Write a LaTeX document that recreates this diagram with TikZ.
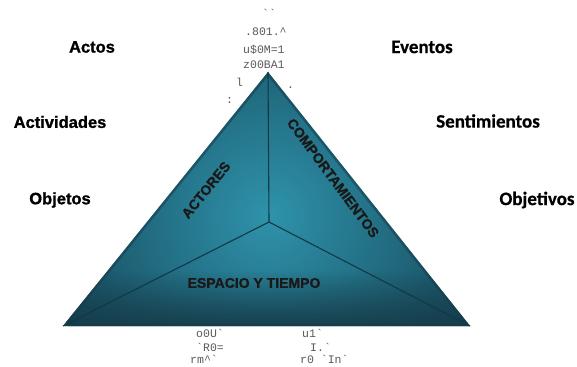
\documentclass[tikz,border=0pt]{standalone}
\usepackage{fontspec}
\setmainfont{Liberation Sans}
\newfontfamily\heavyfont[FakeBold=1.2]{Liberation Sans Bold}
\newfontfamily\calfont[FakeBold=0.6]{Carlito Bold}
\newfontfamily\monofont{Liberation Mono}
\usetikzlibrary{fadings}
\definecolor{tealC}{HTML}{2E93AB}
\definecolor{tealE}{HTML}{17495B}
\definecolor{tealB}{HTML}{163C4A}
\definecolor{lineC}{HTML}{123848}
\definecolor{junk}{HTML}{5A5A5A}
\tikzset{
  leftlab/.style={font=\heavyfont\fontsize{16.5}{18}\selectfont, text=black, inner sep=0pt},
  rightlab/.style={font=\calfont\fontsize{19}{20}\selectfont, text=black, inner sep=0pt},
  facelab/.style={font=\heavyfont\fontsize{14}{15}\selectfont, text=black!90, inner sep=0pt},
  junktext/.style={font=\monofont\fontsize{11.5}{12}\selectfont, text=junk, inner sep=0pt, anchor=west},
  ridge/.style={draw=lineC, line width=1.1pt},
}
\begin{document}
\begin{tikzpicture}[x=1pt,y=-1pt]
\useasboundingbox (0,0) rectangle (577,366);
\fill[white] (0,0) rectangle (577,366);
% pyramid vertices
\coordinate (apex) at (268,72);
\coordinate (bl) at (63,326);
\coordinate (br) at (470,326);
\coordinate (ctr) at (269,222);
% body
\begin{scope}
  \clip (apex) -- (br) -- (bl) -- cycle;
  \shade[inner color=tealC, outer color=tealE] (269,215) circle [radius=230];
  \fill[tealB, path fading=north] (40,270) rectangle (500,330);
  \draw[tealB, line width=5pt, opacity=0.55] (apex) -- (br) -- (bl) -- cycle;
\end{scope}
% ridges
\draw[ridge] (apex) -- (ctr);
\draw[ridge] (ctr) -- (bl);
\draw[ridge] (ctr) -- (br);
% face labels
\node[facelab, rotate=51] (actores) at (206,190) {ACTORES};
\node[facelab, rotate=-53.5] (comp) at (333,178) {COMPORTAMIENTOS};
\node[facelab] (espacio) at (254,283) {ESPACIO Y TIEMPO};
% side labels
\node[leftlab] (actos) at (92,47) {Actos};
\node[leftlab] (actividades) at (60,122) {Actividades};
\node[leftlab] (objetos) at (60,200) {Objetos};
\node[rightlab] (eventos) at (422,47) {Eventos};
\node[rightlab] (sentimientos) at (488,121) {Sentimientos};
\node[rightlab] (objetivos) at (537,200) {Objetivos};
% stray characters
\node[junktext] (j1) at (262,13) {``};
\node[junktext] (j2) at (245,32) {.801.\textasciicircum};
\node[junktext] (j3) at (243,50) {u\$0M=1};
\node[junktext] (j4) at (243,65) {z00BA1};
\node[junktext] (j5) at (236,82) {l};
\node[junktext] (j6) at (287,88) {.};
\node[junktext] (j7) at (226,100) {:};
\node[junktext] (j8) at (196,333) {o0U`};
\node[junktext] (j9) at (196,347) {`R0=};
\node[junktext] (j10) at (190,359) {rm\textasciicircum`};
\node[junktext] (j11) at (302,333) {u1`};
\node[junktext] (j12) at (310,347) {I.`};
\node[junktext] (j13) at (300,359) {r0 `In`};
\end{tikzpicture}
\end{document}
